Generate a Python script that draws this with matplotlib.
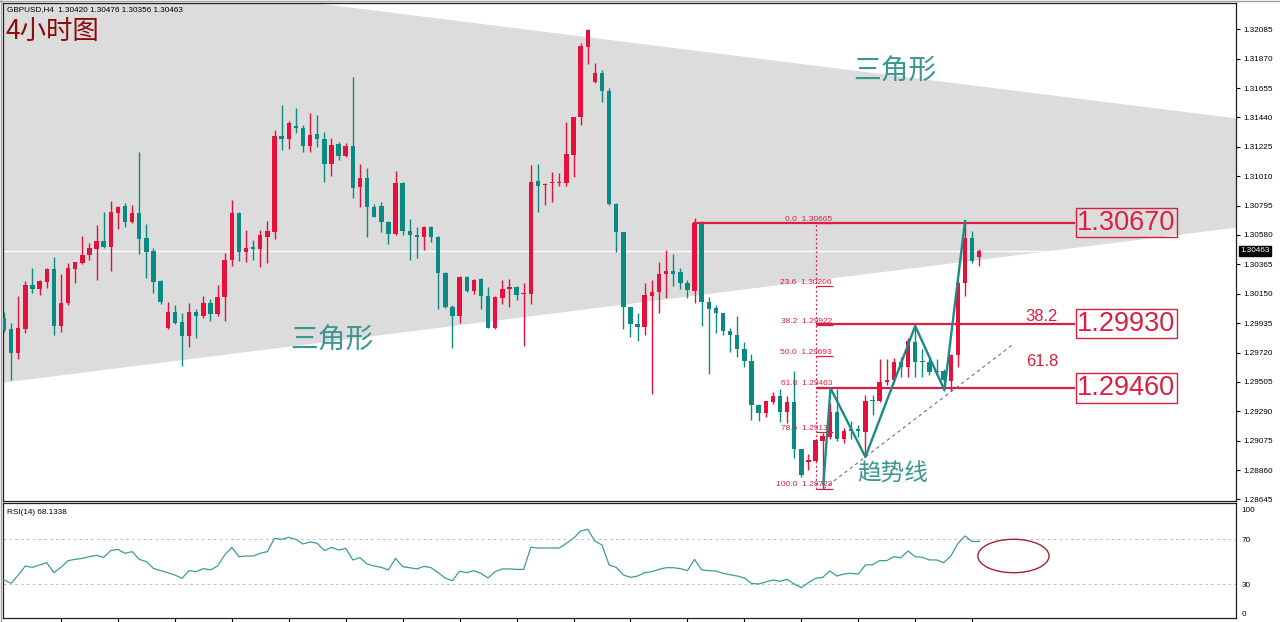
import numpy as np
import matplotlib
matplotlib.use("Agg")
import matplotlib.pyplot as plt
from matplotlib.patches import Ellipse
from matplotlib.transforms import blended_transform_factory

# GBPUSD H4 candles, oldest first
opens = [
    1.29970, 1.29890, 1.29719, 1.29890, 1.30214, 1.30187, 1.30238, 1.30329, 1.29914, 1.30080,
    1.30329, 1.30373, 1.30433, 1.30477, 1.30538, 1.30490, 1.30738, 1.30792, 1.30672, 1.30743,
    1.30555, 1.30466, 1.30243, 1.29897, 1.30015, 1.29941, 1.29841, 1.30015, 1.29989, 1.30084,
    1.30002, 1.30124, 1.30397, 1.30738, 1.30457, 1.30490, 1.30477, 1.30567, 1.30604, 1.31304,
    1.31280, 1.31379, 1.31365, 1.31231, 1.31319, 1.31280, 1.31099, 1.31245, 1.31157, 1.31231,
    1.30929, 1.30995, 1.30782, 1.30794, 1.30677, 1.30584, 1.30958, 1.30611, 1.30580, 1.30567,
    1.30636, 1.30567, 1.30304, 1.30051, 1.29989, 1.30275, 1.30172, 1.30255, 1.30134, 1.29897,
    1.30117, 1.30182, 1.30197, 1.30148, 1.30148, 1.30977, 1.30946, 1.30958, 1.30962, 1.30962,
    1.31165, 1.31441, 1.31957, 1.31701, 1.31767, 1.31635, 1.30807, 1.30600, 1.30051, 1.29929,
    1.29904, 1.30134, 1.30160, 1.30294, 1.30319, 1.30311, 1.30231, 1.30172, 1.30669, 1.30092,
    1.30043, 1.30007, 1.29880, 1.29848, 1.29744, 1.29660, 1.29336, 1.29280, 1.29360, 1.29402,
    1.29288, 1.29360, 1.29011, 1.28921, 1.28928, 1.29075, 1.29105, 1.29288, 1.29091, 1.29158,
    1.29158, 1.29141, 1.29376, 1.29365, 1.29502, 1.29521, 1.29654, 1.29612, 1.29799, 1.29658,
    1.29653, 1.29587, 1.29587, 1.29510, 1.29702, 1.30231, 1.30555, 1.30420,
]
highs = [
    1.30019, 1.29938, 1.30136, 1.30245, 1.30336, 1.30250, 1.30336, 1.30421, 1.30294, 1.30373,
    1.30384, 1.30572, 1.30523, 1.30653, 1.30750, 1.30829, 1.30792, 1.30812, 1.30799, 1.31189,
    1.30661, 1.30482, 1.30250, 1.30092, 1.30068, 1.30011, 1.30084, 1.30036, 1.30136, 1.30110,
    1.30214, 1.30448, 1.30836, 1.30750, 1.30616, 1.30543, 1.30616, 1.30682, 1.31348, 1.31531,
    1.31416, 1.31507, 1.31385, 1.31475, 1.31458, 1.31336, 1.31287, 1.31260, 1.31256, 1.31733,
    1.31099, 1.31068, 1.30807, 1.30823, 1.30682, 1.31050, 1.30970, 1.30695, 1.30636, 1.30648,
    1.30648, 1.30572, 1.30311, 1.30068, 1.30280, 1.30280, 1.30258, 1.30263, 1.30202, 1.30134,
    1.30250, 1.30255, 1.30207, 1.30226, 1.31092, 1.31099, 1.30958, 1.31043, 1.31036, 1.31409,
    1.31445, 1.31987, 1.32085, 1.31836, 1.31787, 1.31653, 1.30816, 1.30604, 1.30055, 1.30007,
    1.30231, 1.30250, 1.30384, 1.30470, 1.30441, 1.30336, 1.30250, 1.30702, 1.30682, 1.30128,
    1.30068, 1.30011, 1.29897, 1.29987, 1.29799, 1.29709, 1.29344, 1.29369, 1.29432, 1.29451,
    1.29402, 1.29587, 1.29018, 1.28977, 1.29086, 1.29128, 1.29349, 1.29451, 1.29166, 1.29217,
    1.29188, 1.29411, 1.29407, 1.29670, 1.29670, 1.29677, 1.29689, 1.29824, 1.29914, 1.29744,
    1.29677, 1.29670, 1.29597, 1.29709, 1.30250, 1.30670, 1.30611, 1.30476,
]
lows = [
    1.29872, 1.29519, 1.29670, 1.29865, 1.30157, 1.30141, 1.30190, 1.29848, 1.29872, 1.30068,
    1.30226, 1.30368, 1.30397, 1.30250, 1.30482, 1.30317, 1.30624, 1.30636, 1.30669, 1.30441,
    1.30263, 1.30157, 1.30075, 1.29892, 1.29929, 1.29621, 1.29758, 1.29824, 1.29970, 1.29953,
    1.29987, 1.29953, 1.30353, 1.30392, 1.30384, 1.30397, 1.30343, 1.30373, 1.30548, 1.31202,
    1.31207, 1.31328, 1.31189, 1.31189, 1.31226, 1.30970, 1.31011, 1.31128, 1.31152, 1.30848,
    1.30787, 1.30563, 1.30709, 1.30604, 1.30514, 1.30580, 1.30580, 1.30397, 1.30411, 1.30470,
    1.30532, 1.30036, 1.30043, 1.29751, 1.29934, 1.30165, 1.30148, 1.30036, 1.29897, 1.29892,
    1.30075, 1.30055, 1.30104, 1.29768, 1.30075, 1.30750, 1.30799, 1.30823, 1.30938, 1.30938,
    1.31002, 1.31385, 1.31831, 1.31690, 1.31555, 1.30799, 1.30457, 1.29890, 1.29832, 1.29806,
    1.29848, 1.29417, 1.30007, 1.30117, 1.30207, 1.30182, 1.30117, 1.30080, 1.29914, 1.29563,
    1.29861, 1.29848, 1.29726, 1.29689, 1.29616, 1.29226, 1.29217, 1.29252, 1.29344, 1.29210,
    1.29204, 1.28946, 1.28811, 1.28860, 1.28921, 1.28723, 1.29086, 1.29075, 1.29060, 1.29091,
    1.29105, 1.28953, 1.29263, 1.29360, 1.29483, 1.29510, 1.29543, 1.29543, 1.29543, 1.29543,
    1.29556, 1.29548, 1.29441, 1.29441, 1.29616, 1.30134, 1.30373, 1.30356,
]
closes = [
    1.29885, 1.29719, 1.29901, 1.30214, 1.30187, 1.30243, 1.30329, 1.29914, 1.30084, 1.30336,
    1.30380, 1.30433, 1.30482, 1.30538, 1.30490, 1.30746, 1.30787, 1.30672, 1.30743, 1.30548,
    1.30457, 1.30238, 1.30092, 1.30015, 1.29938, 1.29841, 1.30015, 1.29989, 1.30084, 1.30002,
    1.30128, 1.30397, 1.30738, 1.30457, 1.30487, 1.30480, 1.30580, 1.30609, 1.31304, 1.31280,
    1.31401, 1.31365, 1.31231, 1.31311, 1.31280, 1.31099, 1.31238, 1.31157, 1.31231, 1.30921,
    1.30995, 1.30782, 1.30714, 1.30673, 1.30584, 1.30958, 1.30609, 1.30580, 1.30567, 1.30636,
    1.30567, 1.30299, 1.30051, 1.29989, 1.30275, 1.30172, 1.30250, 1.30134, 1.29897, 1.30124,
    1.30182, 1.30197, 1.30141, 1.30157, 1.30970, 1.30938, 1.30953, 1.30966, 1.30970, 1.31172,
    1.31441, 1.31965, 1.32079, 1.31763, 1.31635, 1.30807, 1.30600, 1.30051, 1.29929, 1.29904,
    1.30141, 1.30165, 1.30294, 1.30319, 1.30294, 1.30231, 1.30177, 1.30669, 1.30092, 1.30036,
    1.30007, 1.29880, 1.29848, 1.29744, 1.29660, 1.29336, 1.29280, 1.29365, 1.29402, 1.29288,
    1.29360, 1.29011, 1.28824, 1.28931, 1.29080, 1.29110, 1.29288, 1.29091, 1.29148, 1.29148,
    1.29148, 1.29369, 1.29365, 1.29502, 1.29521, 1.29654, 1.29612, 1.29806, 1.29653, 1.29651,
    1.29580, 1.29580, 1.29521, 1.29702, 1.30231, 1.30555, 1.30392, 1.30463,
]
rsi = [
    33.8, 30.8, 38.2, 46.2, 45.0, 47.1, 49.2, 40.3, 45.0, 51.0,
    52.1, 53.0, 54.5, 55.7, 53.9, 59.9, 61.0, 57.5, 59.0, 52.1,
    50.1, 44.1, 42.1, 40.3, 38.2, 35.3, 42.1, 41.2, 43.9, 42.7,
    46.2, 56.0, 62.8, 54.5, 55.1, 55.1, 57.5, 59.0, 70.8, 69.9,
    71.7, 69.9, 65.8, 67.6, 66.4, 59.9, 62.8, 60.4, 61.9, 51.6,
    53.6, 48.0, 46.2, 45.0, 42.7, 53.0, 45.6, 44.7, 43.6, 45.9,
    44.7, 40.3, 35.3, 33.2, 41.5, 40.3, 42.1, 39.7, 35.6, 41.2,
    43.6, 43.6, 43.2, 43.2, 62.8, 62.2, 62.2, 62.2, 62.2, 66.4,
    70.8, 77.3, 78.8, 68.4, 64.9, 47.1, 45.0, 38.2, 36.1, 37.3,
    40.3, 41.2, 43.2, 44.7, 44.7, 43.9, 42.1, 52.1, 42.7, 42.1,
    41.8, 39.7, 38.5, 37.3, 35.6, 30.8, 30.2, 32.0, 33.8, 32.6,
    34.4, 30.2, 27.0, 31.4, 35.3, 36.1, 41.8, 37.3, 39.1, 39.7,
    39.1, 47.1, 47.4, 51.0, 51.0, 54.5, 53.6, 59.6, 54.5, 53.9,
    51.6, 51.6, 49.2, 55.1, 66.4, 72.9, 67.9, 68.1,
]

price_ticks = [1.32085, 1.31870, 1.31655, 1.31440, 1.31225, 1.31010, 1.30795, 1.30580,
               1.30365, 1.30150, 1.29935, 1.29720, 1.29505, 1.29290, 1.29075, 1.28860,
               1.28645]
bid = 1.30463

fib_ratios = ['0.0', '23.6', '38.2', '50.0', '61.8', '78.6', '100.0']
fib_prices = [1.30665, 1.30206, 1.29922, 1.29693, 1.29463, 1.29138, 1.28723]

box_labels = ['1.30670', '1.29930', '1.29460']
box_prices = [1.30670, 1.29930, 1.29460]
box_from = [96.8, 114.1, 114.1]   # candle index where each level line starts

# drawn objects, in (candle index, price)
tri_x = [-1, 174]
tri_upper = [1.32571, 1.31430]
tri_lower = [1.29498, 1.30644]
wave_x = [115.1, 116.1, 121.0, 128.0, 132.1, 135.0]
wave_y = [1.28758, 1.29460, 1.28956, 1.29914, 1.29446, 1.30682]
trend_x = [115.1, 141.8]
trend_y = [1.28722, 1.29782]

UP = '#e5103c'
DOWN = '#0b8a84'
LEVEL = '#dc1e40'
TEXT_TEAL = '#3a9692'
NUM_FONT = 'Liberation Sans'
CJK = ['Noto Sans CJK SC', 'DejaVu Sans']

W, H = 1280, 622
fig = plt.figure(figsize=(W / 100, H / 100), dpi=100)
fig.patch.set_facecolor('white')


def box(x0, y0, x1, y1):
    # pixel box (top-left origin) -> figure fraction rect
    return [x0 / W, 1 - y1 / H, (x1 - x0) / W, (y1 - y0) / H]


ax = fig.add_axes(box(3, 3, 1236, 501))
ax2 = fig.add_axes(box(3, 503, 1236, 618), sharex=ax)

n = len(opens)
x = np.arange(n)
o = np.array(opens)
h = np.array(highs)
l = np.array(lows)
c = np.array(closes)
up = c >= o
colors = np.where(up, UP, DOWN)

xlim = (-0.14, 173.06)
ax.set_xlim(*xlim)
ax.set_ylim(1.28634, 1.32277)

# triangle zone
ax.fill_between(tri_x, tri_lower, tri_upper, color='#dcdcdc', lw=0, zorder=0)
ax.axhline(bid, color='white', lw=1, zorder=1)

# candles
ax.vlines(x, l, h, colors=colors, lw=1, zorder=3)
body = np.maximum(np.abs(c - o), 0.00008)
bottom = (o + c) / 2 - body / 2
ax.bar(x, body, 0.62, bottom=bottom, color=colors, lw=0, zorder=4)

# fibonacci retracement
ax.vlines(114.06, fib_prices[-1], fib_prices[0], colors=LEVEL, lw=0.9,
          linestyles=(0, (1.5, 2)), zorder=5)
for ratio, p in zip(fib_ratios, fib_prices):
    ax.hlines(p, 114.06, 116.4, colors=LEVEL, lw=0.9, zorder=5)
    ax.text(116.3, p + 0.00003, '%s  %.5f' % (ratio, p), ha='right', va='bottom',
            fontsize=6.0, color=LEVEL, family=NUM_FONT, zorder=6)

for lab, p, x0 in zip(box_labels, box_prices, box_from):
    ax.hlines(p, x0, 150.45, colors=LEVEL, lw=1.6, zorder=5)
    ax.text(150.75, p, lab, ha='left', va='center', fontsize=19.5, color=LEVEL,
            family=NUM_FONT, zorder=6,
            bbox=dict(boxstyle='square,pad=0.06', fc='none', ec=LEVEL, lw=1))

ax.text(145.8, 1.29987, '38.2', ha='center', va='center', fontsize=12,
        color=LEVEL, family=NUM_FONT)
ax.text(145.8, 1.29658, '61.8', ha='center', va='center', fontsize=12,
        color=LEVEL, family=NUM_FONT)

# wave and trend line
ax.plot(wave_x, wave_y, color='#1c8a86', lw=1.7, zorder=7)
ax.plot(trend_x, trend_y, color='#707070', lw=0.8, ls=(0, (3, 3)), zorder=7)

ax.text(125.2, 1.31772, '三角形', ha='center', va='center', fontsize=20,
        color=TEXT_TEAL, family=CJK, fontweight='light')
ax.text(46.1, 1.29810, '三角形', ha='center', va='center', fontsize=20,
        color=TEXT_TEAL, family=CJK, fontweight='light', zorder=8)
ax.text(124.9, 1.28831, '趋势线', ha='center', va='center', fontsize=17,
        color=TEXT_TEAL, family=CJK, fontweight='light', zorder=8)

# price scale
ax.yaxis.tick_right()
ax.set_yticks(price_ticks)
ax.set_yticklabels(['%.5f' % p for p in price_ticks], family=NUM_FONT)
ax.tick_params(axis='y', direction='out', length=3, width=0.8, pad=2,
               labelsize=5.9, colors='black')
ax.tick_params(axis='x', length=0, labelbottom=False)
tr = blended_transform_factory(ax.transAxes, ax.transData)
ax.text(1.0035, bid, '%.5f' % bid, transform=tr, ha='left', va='center',
        fontsize=5.9, color='white', family=NUM_FONT, zorder=10,
        bbox=dict(boxstyle='square,pad=0.2', fc='black', ec='black'))
for s in ax.spines.values():
    s.set_color('#202020')
    s.set_linewidth(0.9)

# RSI panel
ax2.set_ylim(0, 102.2)
ax2.plot(x, rsi, color='#3d9c98', lw=0.9, zorder=3)
for lvl in (70, 30):
    ax2.axhline(lvl, color='#c4c4c4', lw=0.7, ls=(0, (3, 3)), zorder=1)
ax2.yaxis.tick_right()
ax2.set_yticks([4.4, 30, 70, 96])
ax2.set_yticklabels(['0', '30', '70', '100'], family=NUM_FONT)
ax2.tick_params(axis='y', length=0, pad=4, labelsize=5.9)
ax2.set_xticks(np.arange(8, n, 8))
ax2.tick_params(axis='x', direction='out', length=3, width=0.8, labelbottom=False)
ax2.add_patch(Ellipse((141.8, 55.1), 10.0, 29.7, fill=False, ec='#a3232f', lw=1,
                      zorder=5))
for s in ax2.spines.values():
    s.set_color('#202020')
    s.set_linewidth(0.9)

fig.text(7 / W, 1 - 10 / H, 'GBPUSD,H4  1.30420 1.30476 1.30356 1.30463',
         fontsize=5.9, family=NUM_FONT, va='center', ha='left')
fig.text(6 / W, 1 - 31 / H, '4小时图', fontsize=19, color='#8b0b0b',
         family=CJK, va='center', ha='left')
fig.text(7 / W, 1 - 512 / H, 'RSI(14) 68.1338', fontsize=5.9, family=NUM_FONT,
         va='center', ha='left')

# outer frame lines
fig.add_artist(plt.Line2D([0, 1], [1 - 0.5 / H] * 2, color='#a0a0a0', lw=1))
fig.add_artist(plt.Line2D([0.5 / W] * 2, [0, 1], color='#a0a0a0', lw=1))

fig.savefig('out.png', dpi=100)
